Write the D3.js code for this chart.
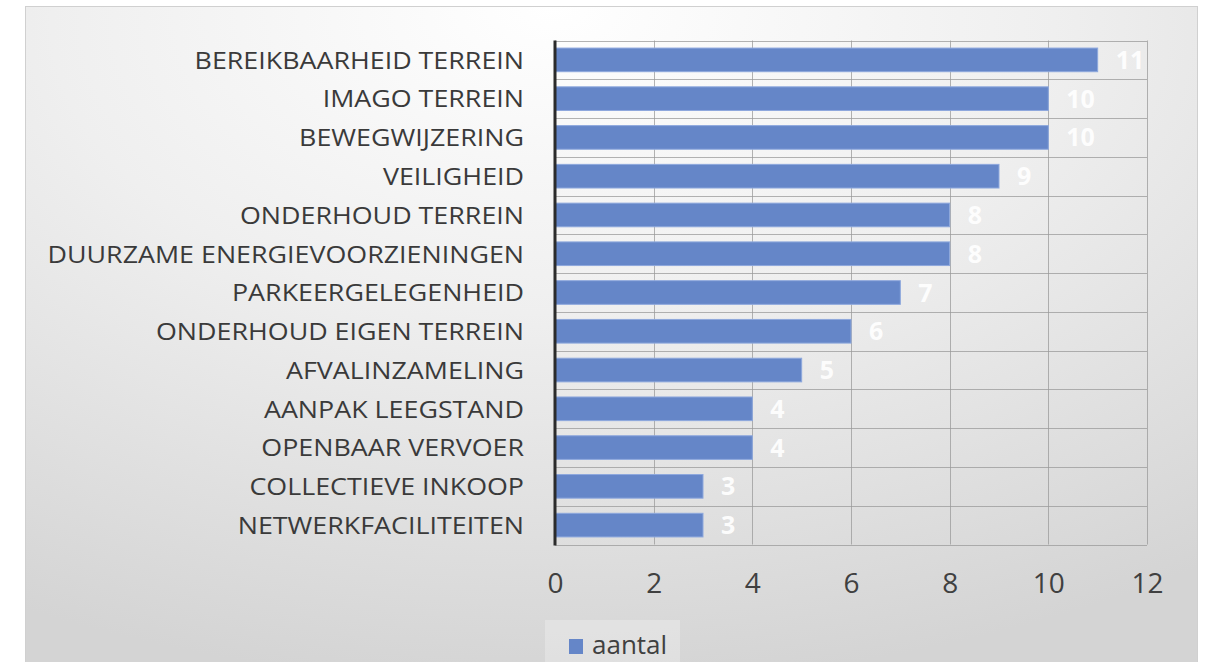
<!DOCTYPE html>
<html><head><meta charset="utf-8">
<script src="https://cdn.jsdelivr.net/npm/d3@7"></script>
<style>html,body{margin:0;padding:0;background:#fff;overflow:hidden}</style>
</head><body>
<svg id="chart" width="1208" height="662"></svg>
<script>
const categories = ["BEREIKBAARHEID TERREIN","IMAGO TERREIN","BEWEGWIJZERING","VEILIGHEID","ONDERHOUD TERREIN","DUURZAME ENERGIEVOORZIENINGEN","PARKEERGELEGENHEID","ONDERHOUD EIGEN TERREIN","AFVALINZAMELING","AANPAK LEEGSTAND","OPENBAAR VERVOER","COLLECTIEVE INKOOP","NETWERKFACILITEITEN"];
const values = [11,10,10,9,8,8,7,6,5,4,4,3,3];
const xTicks = [0,2,4,6,8,10,12];
const seriesName = "aantal";

const svg = d3.select("#chart");
const defs = svg.append("defs");
const g1 = defs.append("radialGradient").attr("id","bg").attr("cx","0.45").attr("cy","0.05").attr("r","0.95").attr("fx","0.45").attr("fy","0.0");
g1.append("stop").attr("offset","0").attr("stop-color","#ffffff");
g1.append("stop").attr("offset","0.45").attr("stop-color","#efefef");
g1.append("stop").attr("offset","1").attr("stop-color","#d4d4d4");

svg.append("rect").attr("x",25.5).attr("y",6.5).attr("width",1172).attr("height",680)
  .attr("fill","url(#bg)").attr("stroke","#d0d0d0");

const margin = {left:555, right:1147, top:40.5, bottom:544.5};
const x = d3.scaleLinear().domain([0,12]).range([margin.left, margin.right]);
const y = d3.scaleBand().domain(categories).range([margin.top, margin.bottom]).paddingInner(0.39).paddingOuter(0.195);

// gridlines
const grid = svg.append("g");
xTicks.forEach(t => {
  grid.append("line").attr("x1",Math.round(x(t))+0.5).attr("x2",Math.round(x(t))+0.5)
    .attr("y1",margin.top).attr("y2",margin.bottom).attr("stroke","#9a9a9a").attr("stroke-opacity",0.75);
});
d3.range(categories.length+1).forEach(i => {
  const yy = margin.top + i*(margin.bottom-margin.top)/categories.length;
  grid.append("line").attr("x1",margin.left).attr("x2",margin.right)
    .attr("y1",Math.round(yy)+0.5).attr("y2",Math.round(yy)+0.5).attr("stroke","#9a9a9a").attr("stroke-opacity",0.75);
});

// bars
svg.append("g").selectAll("rect").data(categories).join("rect")
  .attr("x", x(0)).attr("y", d => y(d)).attr("height", y.bandwidth())
  .attr("width", (d,i) => x(values[i]) - x(0))
  .attr("fill","#6586c8").attr("stroke","#8ea8dd").attr("stroke-width",1);

// value labels
svg.append("g").selectAll("text").data(categories).join("text")
  .attr("x", (d,i) => x(values[i]) + 18).attr("y", d => y(d) + y.bandwidth()/2)
  .attr("dy","0.36em").attr("fill","#ffffff").attr("fill-opacity",0.92).attr("font-family","Open Sans, sans-serif")
  .attr("font-weight","bold").attr("font-size",25).text((d,i) => values[i]);

// category labels
const yAxis = d3.axisLeft(y).tickSize(0).tickPadding(0);
const ya = svg.append("g").attr("transform",`translate(${524},0)`).call(yAxis);
ya.select(".domain").remove();
ya.selectAll("text").attr("font-family","Open Sans, sans-serif").attr("font-size",24.5).attr("fill","#3a3a3a")
  .attr("dy","0.36em")
  .each(function(){ const w = this.getComputedTextLength(); d3.select(this).attr("textLength", w*1.095).attr("lengthAdjust","spacingAndGlyphs"); });

// left axis line
svg.append("line").attr("x1",margin.left).attr("x2",margin.left).attr("y1",margin.top).attr("y2",margin.bottom+1)
  .attr("stroke","#2b2b2b").attr("stroke-width",3);

// x axis
const xAxis = d3.axisBottom(x).tickValues(xTicks).tickSize(0).tickPadding(0);
const xa = svg.append("g").attr("transform",`translate(0,583)`).call(xAxis);
xa.select(".domain").remove();
xa.selectAll("text").attr("font-family","Open Sans, sans-serif").attr("font-size",28).attr("fill","#404040").attr("dy","0.36em");

// legend
const leg = svg.append("g");
leg.append("rect").attr("x",545).attr("y",620).attr("width",135).attr("height",50).attr("fill","#ffffff").attr("opacity",0.25);
leg.append("rect").attr("x",569).attr("y",639).attr("width",14).attr("height",15).attr("fill","#6586c8");
leg.append("text").attr("x",592).attr("y",654).attr("font-family","Open Sans, sans-serif")
  .attr("font-size",26).attr("fill","#404040").text(seriesName);
</script>
</body></html>
